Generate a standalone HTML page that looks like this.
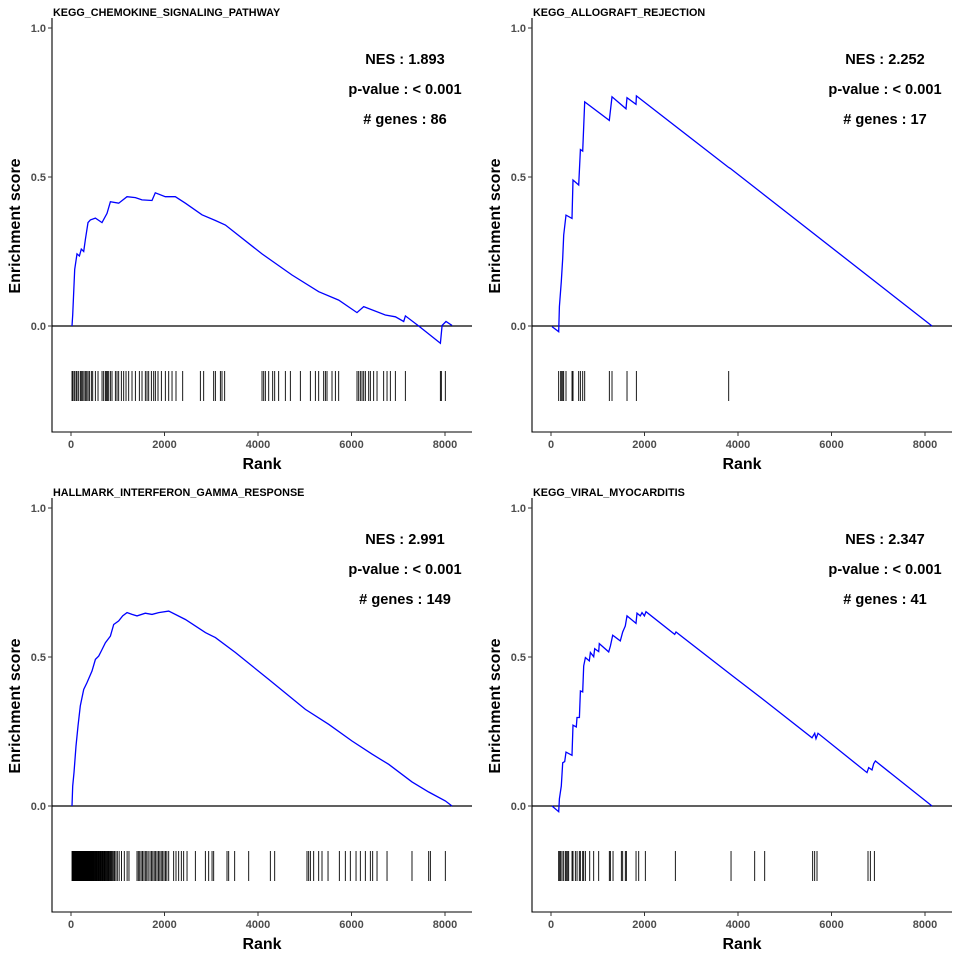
<!DOCTYPE html>
<html><head><meta charset="utf-8"><style>
html,body{margin:0;padding:0;background:#fff}
svg text{font-family:"Liberation Sans",sans-serif}
</style></head><body>
<svg id="chart" width="960" height="960" xmlns="http://www.w3.org/2000/svg"></svg>
<script>
const titles = ["KEGG_CHEMOKINE_SIGNALING_PATHWAY","KEGG_ALLOGRAFT_REJECTION","HALLMARK_INTERFERON_GAMMA_RESPONSE","KEGG_VIRAL_MYOCARDITIS"];
const nesValues = ["1.893","2.252","2.991","2.347"];
const pValues = ["< 0.001","< 0.001","< 0.001","< 0.001"];
const geneCounts = ["86","17","149","41"];
const xTicks = [0,2000,4000,6000,8000];
const yTicks = [0,0.5,1.0];
const yTickLabels = ["0.0","0.5","1.0"];

const rank1 = [22,36,79,129,179,221,271,307,364,414,521,664,771,842,1020,1198,1377,1519,1733,1804,2018,2232,2446,2802,3088,3302,4086,4728,5298,5726,6118,6261,6724,6938,7116,7152,7437,7901,7937,8022,8150];
const es1 = [0,.037,.190,.242,.235,.258,.250,.291,.347,.356,.362,.347,.378,.417,.412,.434,.431,.423,.421,.447,.434,.434,.412,.373,.354,.339,.242,.171,.115,.087,.045,.065,.037,.031,.015,.034,0,-.058,.002,.015,.002];
const hits1 = [22,43,72,107,129,164,200,221,250,278,307,336,364,393,435,464,521,578,664,699,735,756,778,806,842,877,949,984,1020,1077,1127,1177,1234,1305,1377,1462,1519,1590,1626,1662,1719,1769,1804,1861,1933,2018,2090,2161,2246,2389,2767,2838,3052,3088,3195,3230,3287,4086,4122,4157,4229,4314,4357,4442,4585,4692,4906,5120,5227,5298,5405,5441,5476,5583,5655,5726,6118,6154,6189,6225,6261,6296,6368,6403,6474,6546,6688,6760,6831,6938,7152,7901,7922,8007];

const rank2 = [22,164,179,221,250,271,321,450,471,592,628,678,721,1248,1305,1605,1626,1819,1826,3801,3836,8150];
const es2 = [-.002,-.019,.065,.149,.227,.305,.372,.361,.490,.473,.592,.587,.752,.690,.769,.729,.766,.744,.772,.532,.529,0];
const hits2 = [164,207,221,250,271,321,450,471,592,628,678,721,1248,1305,1626,1826,3801];

const rank3 = [22,36,65,107,150,200,271,343,450,521,592,649,735,842,913,1020,1106,1198,1305,1412,1590,1733,1876,2090,2446,2874,3088,3516,4229,5013,5512,6011,6439,6796,7294,7651,8007,8150];
const es3 = [0,.067,.112,.201,.268,.336,.391,.414,.453,.492,.503,.520,.548,.570,.609,.621,.638,.649,.643,.638,.647,.643,.649,.654,.626,.582,.565,.515,.425,.324,.274,.218,.174,.140,.081,.047,.017,0];
const hits3 = [22,30,38,45,52,60,68,75,83,90,98,105,113,120,128,136,143,150,158,166,175,183,190,198,207,215,225,234,243,250,260,270,278,287,296,305,315,325,334,343,352,362,372,382,392,402,412,422,432,443,455,467,478,490,502,514,526,540,553,566,580,594,608,622,636,650,665,680,695,710,726,742,758,775,792,810,828,846,865,884,905,930,960,990,1030,1080,1140,1200,1240,1412,1440,1470,1500,1530,1560,1590,1620,1650,1690,1720,1750,1780,1810,1840,1870,1900,1930,1960,1990,2020,2050,2090,2196,2246,2303,2360,2410,2482,2660,2874,2945,3017,3052,3337,3373,3501,3801,4264,4357,5048,5084,5120,5191,5298,5369,5498,5740,5868,5975,6097,6189,6296,6403,6453,6546,6760,7294,7651,7687,8007];

const rank4 = [22,164,179,221,250,293,321,450,471,542,557,607,628,678,699,735,820,842,913,934,1020,1034,1234,1270,1319,1483,1533,1590,1626,1819,1840,1911,1947,1997,2033,2646,2674,3872,4585,5583,5640,5669,5712,6760,6795,6866,6902,6938,8150];
const es4 = [0,-.019,.024,.067,.145,.149,.181,.170,.271,.265,.297,.297,.386,.383,.470,.498,.487,.515,.501,.528,.518,.545,.517,.537,.573,.554,.584,.604,.638,.613,.647,.638,.649,.638,.652,.576,.584,.438,.352,.229,.244,.226,.244,.112,.129,.121,.142,.151,0];
const hits4 = [164,186,207,236,271,307,328,357,378,450,471,521,557,606,628,678,699,735,828,913,1020,1248,1270,1327,1505,1533,1590,1612,1819,1876,2018,2660,3851,4357,4571,5597,5640,5690,6781,6831,6917];

const ranks = [rank1,rank2,rank3,rank4];
const ess = [es1,es2,es3,es4];
const hitsAll = [hits1,hits2,hits3,hits4];

const NS = "http://www.w3.org/2000/svg";
const svg = document.getElementById("chart");
function mk(tag, attrs, parent){
  const e = document.createElementNS(NS, tag);
  for (const k in attrs) e.setAttribute(k, attrs[k]);
  parent.appendChild(e);
  return e;
}
const offsets = [[0,0],[480,0],[0,480],[480,480]];
for (let p=0;p<4;p++){
  const [ox,oy] = offsets[p];
  const g = mk("g",{transform:`translate(${ox},${oy})`},svg);
  
  
  const xs = r => 71 + r*0.04675;
  const ys = v => 326 - v*298;
  const ya = mk("line",{x1:52,y1:18,x2:52,y2:432.5,stroke:"#000","stroke-width":1.1},g);
  
  
  const xa = mk("line",{x1:51.5,y1:432,x2:472,y2:432,stroke:"#000","stroke-width":1.1},g);
  
  
  yTicks.forEach((v,i)=>{
    mk("line",{x1:48,x2:52,y1:ys(v),y2:ys(v),stroke:"#333","stroke-width":1},g);
    const t = mk("text",{x:46,y:ys(v)+4,"text-anchor":"end","font-size":11,"font-weight":"bold",fill:"#4D4D4D"},g);
    t.textContent = yTickLabels[i];
    
    
  });
  xTicks.forEach(v=>{
    mk("line",{x1:xs(v),x2:xs(v),y1:432,y2:436,stroke:"#333","stroke-width":1},g);
    const t = mk("text",{x:xs(v),y:448,"text-anchor":"middle","font-size":11,"font-weight":"bold",fill:"#4D4D4D"},g);
    t.textContent = v;
    
    
  });
  const xt = mk("text",{x:262,y:469,"text-anchor":"middle","font-size":16,"font-weight":"bold"},g);
  xt.textContent = "Rank";
  
  
  const yt = mk("text",{x:0,y:0,"text-anchor":"middle","font-size":16,"font-weight":"bold",transform:"translate(20,226) rotate(-90)"},g);
  yt.textContent = "Enrichment score";
  
  
  const tt = mk("text",{x:53,y:16,"font-size":10.8,"font-weight":"bold"},g);
  tt.textContent = titles[p];
  
  
  const zl = mk("line",{x1:52,x2:472,y1:326,y2:326,stroke:"#000","stroke-width":1.2},g);
  
  
  const pts = ranks[p].map((r,i)=>xs(r).toFixed(1)+","+ys(ess[p][i]).toFixed(1)).join(" ");
  const pl = mk("polyline",{points:pts,fill:"none",stroke:"#0000FF","stroke-width":1.3},g);
  
  
  const rug = mk("g",{},g);
  
  
  hitsAll[p].forEach(h=>{
    const l = mk("line",{x1:xs(h),x2:xs(h),y1:371,y2:401,stroke:"#000","stroke-width":0.9},rug);
    
    
  });
  const ann = ["NES : "+nesValues[p],"p-value : "+pValues[p],"# genes : "+geneCounts[p]];
  ann.forEach((s,i)=>{
    const t = mk("text",{x:405,y:64+i*30,"text-anchor":"middle","font-size":14.6,"font-weight":"bold"},g);
    t.textContent = s;
    
    
  });
}
</script>
</body></html>
